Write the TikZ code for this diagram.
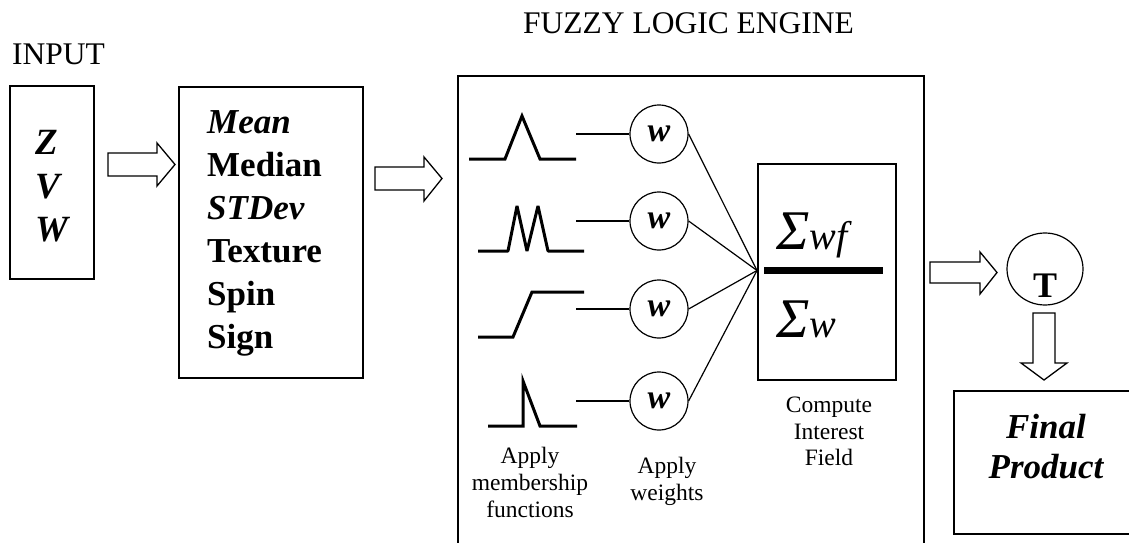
\documentclass[tikz,border=0pt]{standalone}
\usepackage{fontspec}
\setmainfont{Liberation Serif}
\usetikzlibrary{shapes.geometric}

\tikzset{
  box/.style={draw, line width=1.5pt, inner sep=0pt},
  fatarrow/.style={draw, line width=1.3pt, line join=miter},
  mfun/.style={line width=3pt},
  wire/.style={line width=1.2pt},
  wnode/.style={circle, draw, line width=1.2pt, minimum size=58pt, inner sep=0pt,
    font=\fontsize{34}{34}\selectfont\bfseries\itshape},
  lbl/.style={anchor=base, inner sep=0pt, font=\fontsize{23.5}{26}\selectfont},
  head/.style={anchor=base west, inner sep=0pt, font=\fontsize{31.5}{32}\selectfont},
}

\begin{document}
\begin{tikzpicture}[x=1pt, y=-1pt]
\useasboundingbox (0,0) rectangle (1129,543);
\fill[white] (0,0) rectangle (1129,543);

\node[head] (input) at (12,64) {INPUT};
\node[head] (title) at (523,34) {FUZZY LOGIC ENGINE};

\node[box, minimum width=84pt, minimum height=193pt] (zvw) at (52,182.5) {};
\foreach \v [count=\i] in {Z,V,W}
  \node[anchor=base west, inner sep=0pt, font=\fontsize{37}{37}\selectfont\bfseries\itshape] (v\i) at (35,111+43.5*\i) {\v};

\node[box, minimum width=184pt, minimum height=291pt] (stats) at (271,232.5) {};
\foreach \s [count=\i] in {\textit{Mean}, Median, \textit{STDev}, Texture, Spin, Sign}
  \node[anchor=base west, inner sep=0pt, font=\fontsize{35}{35}\selectfont\bfseries] (s\i) at (207,90+43*\i) {\s};

\draw[fatarrow] (108,153) -- (157,153) -- (157,143) -- (175,164.5) -- (157,186) -- (157,176) -- (108,176) -- cycle;
\draw[fatarrow] (375,167) -- (424,167) -- (424,157) -- (442,178.5) -- (424,201) -- (424,190) -- (375,190) -- cycle;

\node[box, anchor=north west, minimum width=466pt, minimum height=490pt] (engine) at (457,75) {};

\draw[mfun] (469,159) -- (505,159) -- (522,116) -- (540,159) -- (576,159);
\draw[mfun, line join=bevel] (478,251) -- (508,251) -- (517,206) -- (527,251) -- (538,206) -- (548,251) -- (584,251);
\draw[mfun] (478,337) -- (513,337) -- (532,292) -- (584,292);
\draw[mfun] (488,426) -- (523,426) -- (523,381) -- (540,426) -- (577,426);

\coordinate (hub) at (757,270.5);
\foreach \y [count=\i] in {134,221,309,401}{
  \node[wnode] (w\i) at (659,\y) {w};
  \coordinate (m\i) at (576,\y);
  \draw[wire] (m\i) -- (w\i);
  \draw[wire] (w\i.east) -- (hub);
}

\node[box, anchor=north west, minimum width=138pt, minimum height=216pt] (ratio) at (757,163) {};
\draw[line width=6.5pt] (764,270.5) -- (883,270.5);
\node[anchor=base west, inner sep=0pt] (num) at (776,249) {\fontsize{56}{56}\selectfont\itshape Σ\fontsize{40}{40}\selectfont wf};
\node[anchor=base west, inner sep=0pt] (den) at (776,337) {\fontsize{56}{56}\selectfont\itshape Σ\fontsize{40}{40}\selectfont w};

\foreach \t [count=\i] in {Apply, membership, functions}
  \node[lbl] (mf\i) at (530,436+27*\i) {\t};
\foreach \t [count=\i] in {Apply, weights}
  \node[lbl] (aw\i) at (667,446+27*\i) {\t};
\foreach \t [count=\i] in {Compute, Interest, Field}
  \node[lbl] (ci\i) at (829,386+26.5*\i) {\t};

\draw[fatarrow] (930,262) -- (980,262) -- (980,252) -- (997,272.5) -- (980,294) -- (980,283) -- (930,283) -- cycle;
\node[ellipse, draw, line width=1.2pt, minimum width=76pt, minimum height=72pt, inner sep=0pt] (tnode) at (1045,269) {};
\node[anchor=base, inner sep=0pt, font=\fontsize{36}{36}\selectfont\bfseries] (tlbl) at (1045,297) {T};
\draw[fatarrow] (1033,313) -- (1055,313) -- (1055,363) -- (1067,363) -- (1044,380) -- (1021,363) -- (1033,363) -- cycle;

\node[box, anchor=north west, minimum width=180pt, minimum height=143pt] (final) at (953,390) {};
\node[anchor=base, inner sep=0pt, font=\fontsize{35}{35}\selectfont\bfseries\itshape] (fin1) at (1046,438) {Final};
\node[anchor=base, inner sep=0pt, font=\fontsize{35}{35}\selectfont\bfseries\itshape] (fin2) at (1046,478) {Product};
\end{tikzpicture}
\end{document}
